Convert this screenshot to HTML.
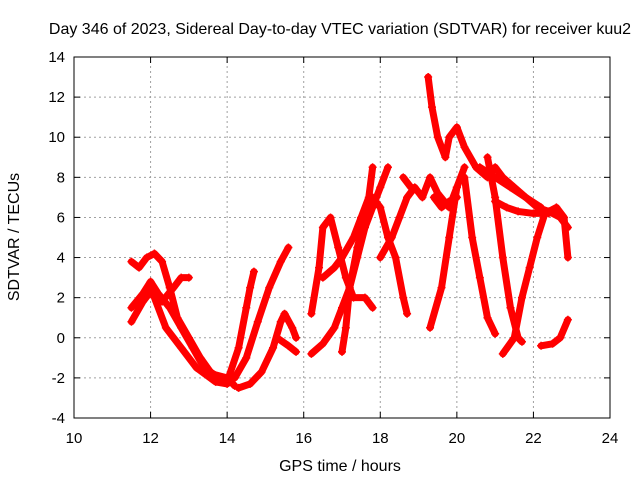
<!DOCTYPE html>
<html><head><meta charset="utf-8"><style>
body{margin:0;background:#fff}
svg text{font-family:"Liberation Sans",Arial,sans-serif;font-size:15px;fill:#000}
svg text.big{font-size:16px}
</style></head><body>
<svg id="chart" width="640" height="480" viewBox="0 0 640 480" xmlns="http://www.w3.org/2000/svg">
<rect width="640" height="480" fill="#fff"/>
<text class="big" x="340" y="34" text-anchor="middle">Day 346 of 2023, Sidereal Day-to-day VTEC variation (SDTVAR) for receiver kuu2</text>
<text class="big" transform="translate(19,237) rotate(-90)" text-anchor="middle">SDTVAR / TECUs</text>
<text class="big" x="340" y="471" text-anchor="middle">GPS time / hours</text>
<g id="grid"></g><g id="ticks"></g><g id="marks"></g>
<rect x="74" y="57" width="536" height="361" fill="none" stroke="#000" stroke-width="1"/>
</svg>
<script>
const xTicks=[10,12,14,16,18,20,22,24];
const yTicks=[-4,-2,0,2,4,6,8,10,12,14];
const tracks=[
[[11.5,3.8],[11.7,3.5],[11.9,4.0],[12.1,4.2],[12.3,3.8],[12.5,2.5],[12.7,1.0],[13.0,0],[13.3,-1],[13.6,-1.8],[14.0,-2],[14.2,-2.4]],
[[11.5,1.5],[11.8,2.2],[12.0,2.8],[12.2,2.2],[12.5,1.5],[12.8,0.5],[13.1,-0.5],[13.4,-1.5],[13.8,-2.0],[14.1,-2.2]],
[[11.5,0.8],[11.8,1.8],[12.0,2.3],[12.3,1.8],[12.6,2.5],[12.8,3.0],[13.0,3.0]],
[[12.1,2.0],[12.4,0.5],[12.8,-0.5],[13.2,-1.5],[13.7,-2.2],[14.0,-2.3]],
[[14.0,-2.2],[14.3,-0.5],[14.5,1.5],[14.6,2.5],[14.7,3.3]],
[[14.2,-2.0],[14.5,-1.0],[14.8,0.8],[15.1,2.5],[15.4,3.8],[15.6,4.5]],
[[14.3,-2.5],[14.6,-2.3],[14.9,-1.7],[15.2,-0.5],[15.4,0.8],[15.5,1.2],[15.7,0.5],[15.8,0]],
[[15.3,0.0],[15.6,-0.4],[15.8,-0.7]],
[[16.2,-0.8],[16.5,-0.3],[16.8,0.5],[17.0,1.5],[17.2,2.5],[17.4,4.0],[17.6,5.5],[17.8,6.5],[18.0,7.5],[18.2,8.5]],
[[16.2,1.2],[16.4,3.5],[16.5,5.5],[16.7,6.0],[16.9,4.5],[17.1,3.0],[17.3,2.0],[17.6,2.0],[17.8,1.5]],
[[17.0,-0.7],[17.1,0.5],[17.2,2.5],[17.4,4.5],[17.6,6.0],[17.8,7.0],[18.0,6.5],[18.2,5],[18.4,4],[18.6,2],[18.7,1.2]],
[[16.5,3.0],[16.8,3.5],[17.0,4.0],[17.3,5.0],[17.5,6.0],[17.7,7.0],[17.8,8.5]],
[[18.0,4.0],[18.3,5.0],[18.5,6.0],[18.7,7.0],[18.9,7.5],[19.1,7.0],[19.3,8.0],[19.5,7.2],[19.8,6.5],[20.0,7.5]],
[[18.6,8.0],[18.8,7.5]],
[[19.25,13],[19.35,11.5],[19.5,10],[19.7,9],[19.8,10],[20.0,10.5],[20.2,9.5],[20.5,8.5],[20.8,8],[21.0,8.5],[21.2,8],[21.5,7.5],[21.8,7],[22.1,6.5],[22.4,6.3],[22.7,6.0],[22.9,5.5]],
[[19.3,0.5],[19.6,2.5],[19.8,5],[20.0,7.5],[20.2,8.5]],
[[20.2,8],[20.4,5],[20.6,3],[20.8,1.0],[21.0,0.2]],
[[20.8,9],[21.0,7],[21.2,4],[21.4,1.5],[21.6,0],[21.7,-0.2]],
[[21.2,-0.8],[21.5,0],[21.7,2.0],[21.9,3.5],[22.1,5],[22.3,6.2],[22.6,6.5],[22.8,6.0],[22.9,4.0]],
[[22.2,-0.4],[22.5,-0.3],[22.7,0],[22.9,0.9]],
[[21.0,6.8],[21.3,6.5],[21.6,6.3],[22.0,6.2],[22.4,6.2]],
[[20.6,8.5],[21.0,8.0],[21.4,7.5],[21.8,7.0],[22.2,6.5]],
[[19.4,7.0],[19.6,6.5],[19.8,6.8],[20.0,7.0]]
];
const NS="http://www.w3.org/2000/svg";
const X0=74,X1=610,Y0=418,Y1=57;
function sx(v){return X0+(v-10)/(24-10)*(X1-X0);}
function sy(v){return Y0-(v+4)/(14+4)*(Y0-Y1);}
function mk(t,a,p){const e=document.createElementNS(NS,t);for(const k in a)e.setAttribute(k,a[k]);p.appendChild(e);return e;}
const grid=document.getElementById('grid'),ticks=document.getElementById('ticks'),marks=document.getElementById('marks');
xTicks.forEach(v=>{const x=sx(v);
 if(v>10&&v<24){const g=mk('line',{x1:x,x2:x,y1:Y0,y2:Y1,stroke:'#a0a0a0','stroke-dasharray':'2,3'},grid);
 
 }
 const t=mk('text',{x:x,y:Y0+25,'text-anchor':'middle'},ticks);t.textContent=v;
 
 
 mk('line',{x1:x,x2:x,y1:Y0,y2:Y0-6,stroke:'#000'},ticks);mk('line',{x1:x,x2:x,y1:Y1,y2:Y1+6,stroke:'#000'},ticks);});
yTicks.forEach(v=>{const y=sy(v);
 if(v>-4&&v<14){const g=mk('line',{x1:X0,x2:X1,y1:y,y2:y,stroke:'#a0a0a0','stroke-dasharray':'2,3'},grid);
 
 }
 const t=mk('text',{x:X0-9,y:y+5,'text-anchor':'end'},ticks);t.textContent=v;
 
 
 mk('line',{x1:X0,x2:X0+6,y1:y,y2:y,stroke:'#000'},ticks);mk('line',{x1:X1,x2:X1-6,y1:y,y2:y,stroke:'#000'},ticks);});
tracks.forEach(tr=>{
 const pl=mk('polyline',{points:tr.map(p=>sx(p[0])+','+sy(p[1])).join(' '),fill:'none',stroke:'#f00','stroke-width':7,'stroke-linejoin':'round','stroke-linecap':'round'},marks);
 
 
 tr.forEach(p=>{const x=sx(p[0]),y=sy(p[1]);
  const m=mk('path',{d:`M${x-4},${y}H${x+4}M${x},${y-4}V${y+4}`,stroke:'#f00','stroke-width':1.5},marks);
  
  });
});
</script>
</body></html>
